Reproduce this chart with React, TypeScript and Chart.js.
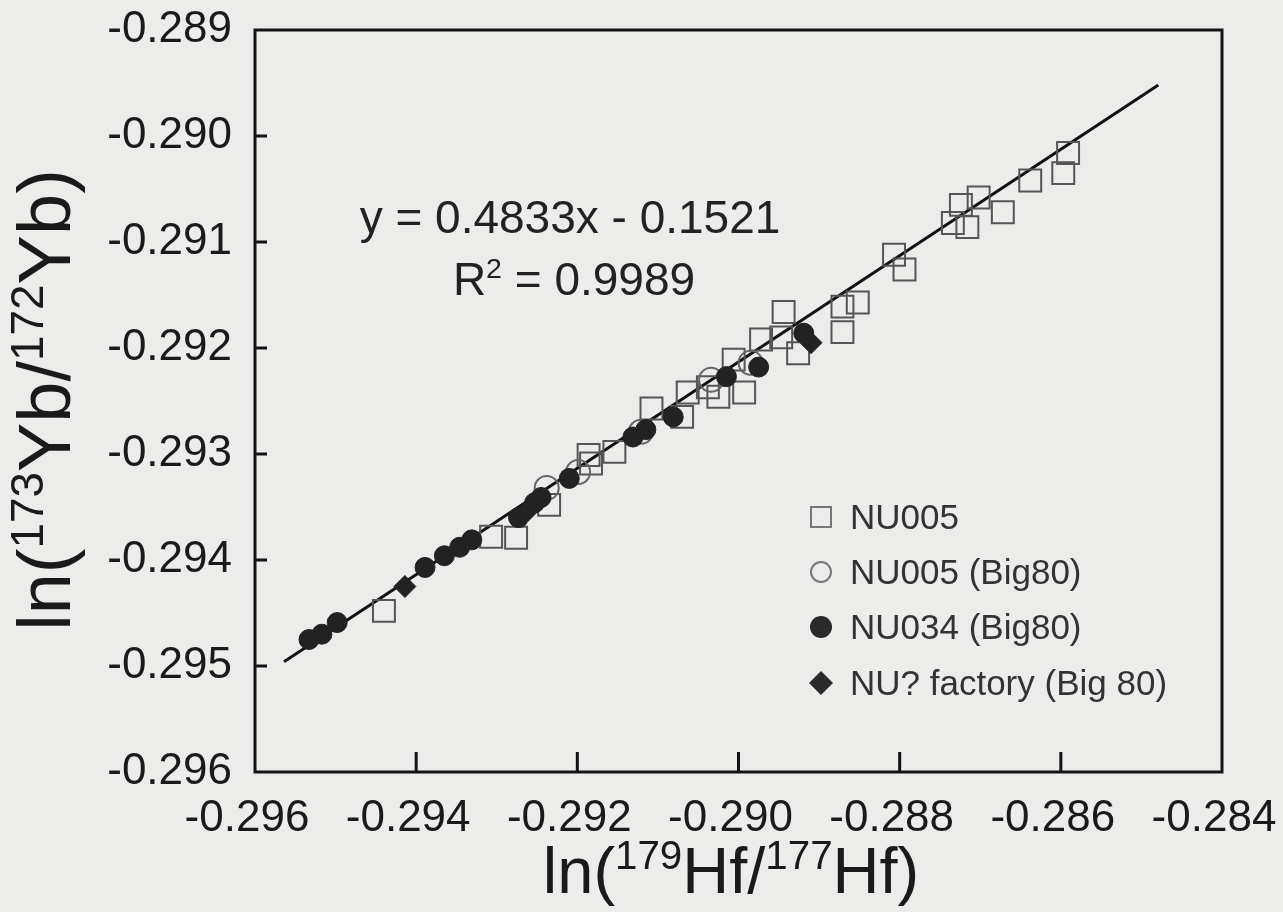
import React, { useEffect, useRef } from 'react';
import { Chart, registerables } from 'chart.js';

Chart.register(...registerables);

const FONT = "'Liberation Sans', Arial, Helvetica, sans-serif";

// axis ticks
const xTicks = [-0.296, -0.294, -0.292, -0.29, -0.288, -0.286, -0.284];
const yTicks = [-0.296, -0.295, -0.294, -0.293, -0.292, -0.291, -0.29, -0.289];

// NU005 (open squares)
const nu005X = [-0.2944, -0.29307, -0.29276, -0.29235, -0.29183, -0.29186, -0.29154, -0.29108, -0.2907, -0.29063, -0.29038, -0.29025, -0.29006, -0.28993, -0.28972, -0.28947, -0.28944, -0.28926, -0.28871, -0.28871, -0.28852, -0.28807, -0.28794, -0.28734, -0.28724, -0.28716, -0.28702, -0.28672, -0.28638, -0.28597, -0.28591];
const nu005Y = [-0.29448, -0.29378, -0.29379, -0.29348, -0.29309, -0.29301, -0.29298, -0.29257, -0.29265, -0.29242, -0.29237, -0.29246, -0.29211, -0.29242, -0.29192, -0.2919, -0.29166, -0.29205, -0.29161, -0.29185, -0.29157, -0.29112, -0.29126, -0.29082, -0.29065, -0.29086, -0.29058, -0.29072, -0.29042, -0.29035, -0.29016];

// NU005 (Big80) (open circles)
const nu005bX = [-0.29238, -0.29199, -0.29121, -0.29034, -0.28985];
const nu005bY = [-0.29332, -0.29317, -0.29279, -0.2923, -0.29214];

// NU034 (Big80) (filled circles)
const nu034X = [-0.29533, -0.29517, -0.29498, -0.29389, -0.29365, -0.29346, -0.29331, -0.29273, -0.29253, -0.29245, -0.2921, -0.29131, -0.29115, -0.29081, -0.29015, -0.28975, -0.28919];
const nu034Y = [-0.29475, -0.2947, -0.29459, -0.29407, -0.29396, -0.29388, -0.29381, -0.2936, -0.29346, -0.29341, -0.29323, -0.29284, -0.29277, -0.29265, -0.29227, -0.29218, -0.29186];

// NU? factory (Big 80) (filled diamonds)
const factoryX = [-0.29414, -0.29261, -0.2891];
const factoryY = [-0.29425, -0.29353, -0.29195];

// fitted line end points
const fitX = [-0.29564, -0.28479];
const fitY = [-0.29496, -0.28952];

const legendLabels = ['NU005', 'NU005 (Big80)', 'NU034 (Big80)', 'NU? factory (Big 80)'];

const zip = (xs: number[], ys: number[]) => xs.map((x, i) => ({ x, y: ys[i] }));

type Part = { t: string; sup?: boolean };

function drawRich(ctx: CanvasRenderingContext2D, parts: Part[], size: number, cx: number, y: number) {
  const supSize = size * 0.62;
  let total = 0;
  const widths = parts.map((p) => {
    ctx.font = `${p.sup ? supSize : size}px ${FONT}`;
    const w = ctx.measureText(p.t).width;
    total += w;
    return w;
  });
  let x = cx - total / 2;
  ctx.textAlign = 'left';
  ctx.textBaseline = 'alphabetic';
  parts.forEach((p, i) => {
    ctx.font = `${p.sup ? supSize : size}px ${FONT}`;
    ctx.fillText(p.t, x, p.sup ? y - size * 0.37 : y);
    x += widths[i];
  });
}

const decorPlugin = {
  id: 'decor',
  beforeDraw(chart: any) {
    const ctx = chart.ctx as CanvasRenderingContext2D;
    ctx.save();
    ctx.fillStyle = '#ececea';
    ctx.fillRect(0, 0, chart.width, chart.height);
    ctx.restore();
  },
  afterDraw(chart: any) {
    const ctx = chart.ctx as CanvasRenderingContext2D;
    const { left, right, top, bottom } = chart.chartArea;
    const xs = chart.scales.x;
    const ys = chart.scales.y;
    ctx.save();
    ctx.strokeStyle = '#141414';
    ctx.lineWidth = 3;
    ctx.strokeRect(left, top, right - left, bottom - top);
    ctx.lineWidth = 3;
    xTicks.slice(1, -1).forEach((v) => {
      const px = xs.getPixelForValue(v);
      ctx.beginPath();
      ctx.moveTo(px, bottom);
      ctx.lineTo(px, bottom - 20);
      ctx.stroke();
    });
    yTicks.slice(1, -1).forEach((v) => {
      const py = ys.getPixelForValue(v);
      ctx.beginPath();
      ctx.moveTo(left, py);
      ctx.lineTo(left + 12, py);
      ctx.stroke();
    });

    ctx.fillStyle = '#1a1a1a';
    // axis titles
    drawRich(ctx, [{ t: 'ln(' }, { t: '179', sup: true }, { t: 'Hf/' }, { t: '177', sup: true }, { t: 'Hf)' }], 65, 731, 893);
    ctx.save();
    ctx.translate(70, 400);
    ctx.rotate(-Math.PI / 2);
    drawRich(ctx, [{ t: 'ln(' }, { t: '173', sup: true }, { t: 'Yb/' }, { t: '172', sup: true }, { t: 'Yb)' }], 74, 0, 0);
    ctx.restore();

    // equation
    ctx.fillStyle = '#222';
    drawRich(ctx, [{ t: 'y = 0.4833x - 0.1521' }], 46, 570, 233);
    drawRich(ctx, [{ t: 'R' }, { t: '2', sup: true }, { t: ' = 0.9989' }], 46, 574, 295);

    // legend
    const rows = [517, 572, 627, 683];
    const sx = 821;
    ctx.lineWidth = 2;
    ctx.strokeStyle = '#777';
    ctx.strokeRect(sx - 10, rows[0] - 10, 20, 20);
    ctx.beginPath();
    ctx.arc(sx, rows[1], 10, 0, Math.PI * 2);
    ctx.stroke();
    ctx.fillStyle = '#2a2a2a';
    ctx.beginPath();
    ctx.arc(sx, rows[2], 11, 0, Math.PI * 2);
    ctx.fill();
    ctx.beginPath();
    ctx.moveTo(sx, rows[3] - 12);
    ctx.lineTo(sx + 12, rows[3]);
    ctx.lineTo(sx, rows[3] + 12);
    ctx.lineTo(sx - 12, rows[3]);
    ctx.closePath();
    ctx.fill();

    ctx.fillStyle = '#333';
    ctx.font = `35px ${FONT}`;
    ctx.textAlign = 'left';
    ctx.textBaseline = 'alphabetic';
    legendLabels.forEach((l, i) => ctx.fillText(l, 850, rows[i] + 12));
    ctx.restore();
  },
};

export default function App() {
  const ref = useRef<HTMLCanvasElement | null>(null);
  useEffect(() => {
    if (!ref.current) return;
    const chart = new Chart(ref.current, {
      type: 'scatter',
      data: {
        datasets: [
          {
            label: legendLabels[3],
            data: zip(factoryX, factoryY),
            pointStyle: 'rectRot',
            pointRadius: 11,
            backgroundColor: '#222',
            borderColor: '#222',
            borderWidth: 1,
          },
          {
            label: legendLabels[2],
            data: zip(nu034X, nu034Y),
            pointStyle: 'circle',
            pointRadius: 10,
            backgroundColor: '#222',
            borderColor: '#222',
            borderWidth: 1,
          },
          {
            label: legendLabels[1],
            data: zip(nu005bX, nu005bY),
            pointStyle: 'circle',
            pointRadius: 12,
            backgroundColor: 'rgba(0,0,0,0)',
            borderColor: '#666',
            borderWidth: 2,
          },
          {
            label: legendLabels[0],
            data: zip(nu005X, nu005Y),
            pointStyle: 'rect',
            pointRadius: 15.5,
            backgroundColor: 'rgba(0,0,0,0)',
            borderColor: '#555',
            borderWidth: 2,
          },
          {
            type: 'line',
            label: 'fit',
            data: zip(fitX, fitY),
            borderColor: '#111',
            borderWidth: 3,
            pointRadius: 0,
            showLine: true,
            fill: false,
          } as any,
        ],
      },
      options: {
        animation: false,
        responsive: false,
        events: [],
        layout: { padding: { left: 0, top: 30, right: 61, bottom: 0 } },
        plugins: { legend: { display: false }, tooltip: { enabled: false } },
        scales: {
          x: {
            type: 'linear',
            min: -0.296,
            max: -0.284,
            afterBuildTicks: (s: any) => {
              s.ticks = xTicks.map((v) => ({ value: v }));
            },
            afterFit: (s: any) => {
              s.height = 140;
              s.paddingLeft = 0;
              s.paddingRight = 0;
            },
            grid: { display: false },
            border: { display: false },
            ticks: {
              padding: 12,
              labelOffset: -8,
              color: '#1a1a1a',
              font: { family: FONT, size: 44 },
              maxRotation: 0,
              autoSkip: false,
              callback: (v: any) => Number(v).toFixed(3),
            },
          },
          y: {
            type: 'linear',
            min: -0.296,
            max: -0.289,
            afterBuildTicks: (s: any) => {
              s.ticks = yTicks.map((v) => ({ value: v }));
            },
            afterFit: (s: any) => {
              s.width = 255;
              s.paddingTop = 0;
              s.paddingBottom = 0;
            },
            grid: { display: false },
            border: { display: false },
            ticks: {
              padding: 15,
              color: '#1a1a1a',
              font: { family: FONT, size: 44 },
              autoSkip: false,
              callback: (v: any) => Number(v).toFixed(3),
            },
          },
        },
      },
      plugins: [decorPlugin as any],
    });
    return () => chart.destroy();
  }, []);
  return (
    <div style={{ position: 'fixed', left: 0, top: 0, width: 1283, height: 912, background: '#ececea' }}>
      <canvas ref={ref} width={1283} height={912} style={{ display: 'block' }} />
    </div>
  );
}
